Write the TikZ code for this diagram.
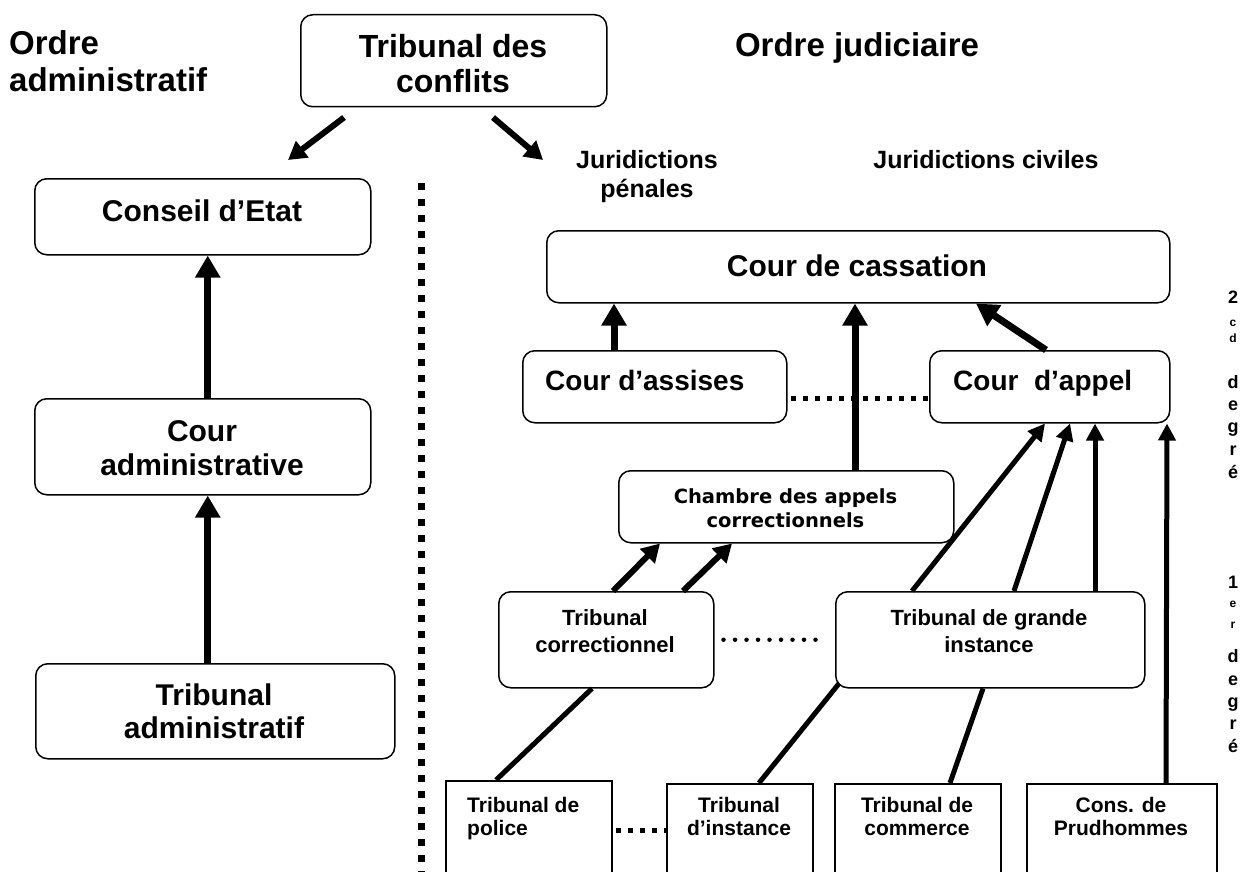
\documentclass[tikz,border=0pt]{standalone}
\usepackage{fontspec}
\setmainfont{Liberation Sans}
\newfontfamily\dvs{DejaVu Sans}
\usetikzlibrary{arrows.meta,calc}
\begin{document}
\begin{tikzpicture}[x=1pt,y=-1pt,
  rbox/.style={draw, line width=1.5pt, rounded corners=12pt, anchor=north west, inner sep=0pt},
  sbox/.style={draw, line width=1.5pt, anchor=north west, inner sep=0pt},
  txt/.style={anchor=base, align=center, inner sep=0pt},
  tT/.style={font=\fontsize{33pt}{37pt}\selectfont\bfseries},
  tA/.style={font=\fontsize{30pt}{35pt}\selectfont\bfseries},
  tB/.style={font=\fontsize{28pt}{33pt}\selectfont\bfseries},
  tC/.style={font=\fontsize{25pt}{29pt}\selectfont\bfseries},
  tD/.style={font=\fontsize{22pt}{27pt}\selectfont\bfseries},
  tE/.style={font=\fontsize{21pt}{23pt}\selectfont\bfseries},
  tF/.style={font=\dvs\fontsize{19.5pt}{24pt}\selectfont\bfseries},
  rbig/.style={font=\fontsize{18pt}{20pt}\selectfont\bfseries, anchor=base, inner sep=0pt},
  rsml/.style={font=\fontsize{12pt}{14pt}\selectfont\bfseries, anchor=base, inner sep=0pt},
  bigarrow/.style={-{Triangle[width=24pt,length=22pt]}, line width=7pt},
  midarrow/.style={-{Triangle[width=20pt,length=18pt]}, line width=6pt},
  thinarrow/.style={-{Triangle[width=17pt,length=17pt]}, line width=5pt},
  link/.style={line width=5pt},
  sqdots/.style={line width=5pt, dash pattern=on 5.5pt off 6.5pt},
  vdots/.style={line width=7pt, dash pattern=on 7pt off 9pt},
  rdots/.style={line width=4.5pt, line cap=round, dash pattern=on 0pt off 11.5pt}
]
\useasboundingbox (0,0) rectangle (1247,872);
\clip (0,0) rectangle (1247,872);

% titles (multi-line nodes: base = last line)
\node[tT, anchor=base west, align=left, inner sep=0pt] (oadm) at (9,92) {Ordre\\administratif};
\node[tT, txt] (ojud) at (857,57) {Ordre judiciaire};
\node[tC, txt] (jpen) at (647,197) {Juridictions\\pénales};
\node[tC, txt] (jciv) at (986,168) {Juridictions civiles};

% Tribunal des conflits
\node[rbox, minimum width=306pt, minimum height=92pt] (tdc) at (300,14) {};
\node[tT, txt, font=\fontsize{32pt}{35pt}\selectfont\bfseries] (tdct) at (453,93) {Tribunal des\\conflits};
\coordinate (tipl) at (288,160);
\coordinate (tipr) at (543,160);
\draw[midarrow] ([xshift=44pt,yshift=-10pt]tdc.south west) -- (tipl);
\draw[midarrow] ([xshift=193pt,yshift=-10pt]tdc.south west) -- (tipr);

% administrative order
\node[rbox, minimum width=336pt, minimum height=76pt] (ce) at (34,178) {};
\node[tA, txt] (cet) at (202,221) {Conseil d’Etat};
\node[rbox, minimum width=336pt, minimum height=96pt] (cadm) at (34,398) {};
\node[tA, txt, font=\fontsize{30pt}{34pt}\selectfont\bfseries] (cadmt) at (202,475) {Cour\\administrative};
\node[rbox, minimum width=359pt, minimum height=95pt] (tadm) at (35,663) {};
\node[tA, txt, font=\fontsize{30pt}{33pt}\selectfont\bfseries] (tadmt) at (214,738) {Tribunal\\administratif};
\draw[bigarrow] ([xshift=5pt]cadm.north) -- ([xshift=5pt]ce.south);
\draw[bigarrow] ([xshift=-7.5pt]tadm.north) -- ([xshift=5pt]cadm.south);

% separator
\coordinate (sept) at (421,183);
\coordinate (sepb) at (421,872);
\draw[vdots] (sept) -- (sepb);

% judicial order
\node[rbox, minimum width=623pt, minimum height=72pt] (cass) at (546,230) {};
\node[tA, txt] (casst) at (857,276) {Cour de cassation};
\node[rbox, minimum width=264pt, minimum height=72pt] (assi) at (522,350) {};
\node[tB, anchor=base west, inner sep=0pt] (assit) at (545,390) {Cour d’assises};
\node[rbox, minimum width=240pt, minimum height=72pt] (appel) at (929,350) {};
\node[tB, anchor=base west, inner sep=0pt] (appelt) at (953,390) {Cour\ \ d’appel};
\node[rbox, minimum width=335pt, minimum height=72pt] (chap) at (618,470) {};
\node[tF, txt] (chapt) at (785.5,527) {Chambre des appels\\correctionnels};
\node[rbox, minimum width=215pt, minimum height=96pt] (tcor) at (498,591) {};
\node[tD, txt] (tcort) at (605,652) {Tribunal\\correctionnel};
\node[rbox, minimum width=309pt, minimum height=96pt] (tgi) at (835,591) {};
\node[tD, txt] (tgit) at (989,652) {Tribunal de grande\\instance};

\node[sbox, minimum width=166pt, minimum height=100pt] (tpol) at (445,780) {};
\node[tE, anchor=base west, align=left, inner sep=0pt] (tpolt) at (467,835) {Tribunal de\\police};
\node[sbox, minimum width=146pt, minimum height=97pt] (tins) at (666,783) {};
\node[tE, txt] (tinst) at (739,835) {Tribunal\\d’instance};
\node[sbox, minimum width=166pt, minimum height=97pt] (tcom) at (834,783) {};
\node[tE, txt] (tcomt) at (917,835) {Tribunal de\\commerce};
\node[sbox, minimum width=190pt, minimum height=97pt] (prud) at (1026,783) {};
\node[tE, txt] (prudt) at (1121,835) {Cons. de\\Prudhommes};

% arrows to cassation
\draw[bigarrow] ([xshift=92pt]assi.north west) -- ([xshift=68pt]cass.south west);
\draw[bigarrow] ([xshift=237pt]chap.north west) -- ([xshift=309pt]cass.south west);
\draw[bigarrow] ([xshift=117pt]appel.north west) -- ([xshift=430pt]cass.south west);

% arrows to chambre
\draw[midarrow] ([xshift=115pt]tcor.north west) -- ([xshift=42pt]chap.south west);
\draw[midarrow] ([xshift=185pt]tcor.north west) -- ([xshift=114pt]chap.south west);

% arrows to cour d'appel
\draw[thinarrow] ([xshift=77pt]tgi.north west) -- ([xshift=116pt]appel.south west);
\draw[thinarrow] ([xshift=179pt]tgi.north west) -- ([xshift=141pt]appel.south west);
\draw[thinarrow] ([xshift=260pt]tgi.north west) -- ([xshift=166pt]appel.south west);
\draw[thinarrow] ([xshift=140pt]prud.north west) -- ([xshift=238pt]appel.south west);

% links from first-instance courts
\draw[link] ([xshift=51pt]tpol.north west) -- ([xshift=94pt]tcor.south west);
\draw[link] ([xshift=93pt]tins.north west) -- ([xshift=4pt,yshift=5pt]tgi.south west);
\draw[link] ([xshift=116pt]tcom.north west) -- ([xshift=148pt]tgi.south west);

% dotted links
\draw[sqdots] ([xshift=3pt,yshift=-12pt]assi.east) -- ([yshift=-12pt]assi.east -| appel.west);
\draw[rdots] ([xshift=9pt]tcor.east) -- ([xshift=-15pt]tgi.west);
\draw[sqdots] ([xshift=3pt]tpol.east) -- (tpol.east -| tins.west);

% degree labels
\node[rbig] (d2) at (1233,303) {2};
\node[rsml] (d2c) at (1233,326) {c};
\node[rsml] (d2d) at (1233,342) {d};
\node[rbig] (d2a) at (1233,388) {d};
\node[rbig] (d2b) at (1233,410) {e};
\node[rbig] (d2g) at (1233,432) {g};
\node[rbig] (d2r) at (1233,455) {r};
\node[rbig] (d2e) at (1233,478) {é};
\node[rbig] (d1) at (1233,588) {1};
\node[rsml] (d1e) at (1233,607) {e};
\node[rsml] (d1r) at (1233,628) {r};
\node[rbig] (d1a) at (1233,662) {d};
\node[rbig] (d1b) at (1233,685) {e};
\node[rbig] (d1g) at (1233,707) {g};
\node[rbig] (d1r2) at (1233,729) {r};
\node[rbig] (d1x) at (1233,752) {é};
\end{tikzpicture}
\end{document}
